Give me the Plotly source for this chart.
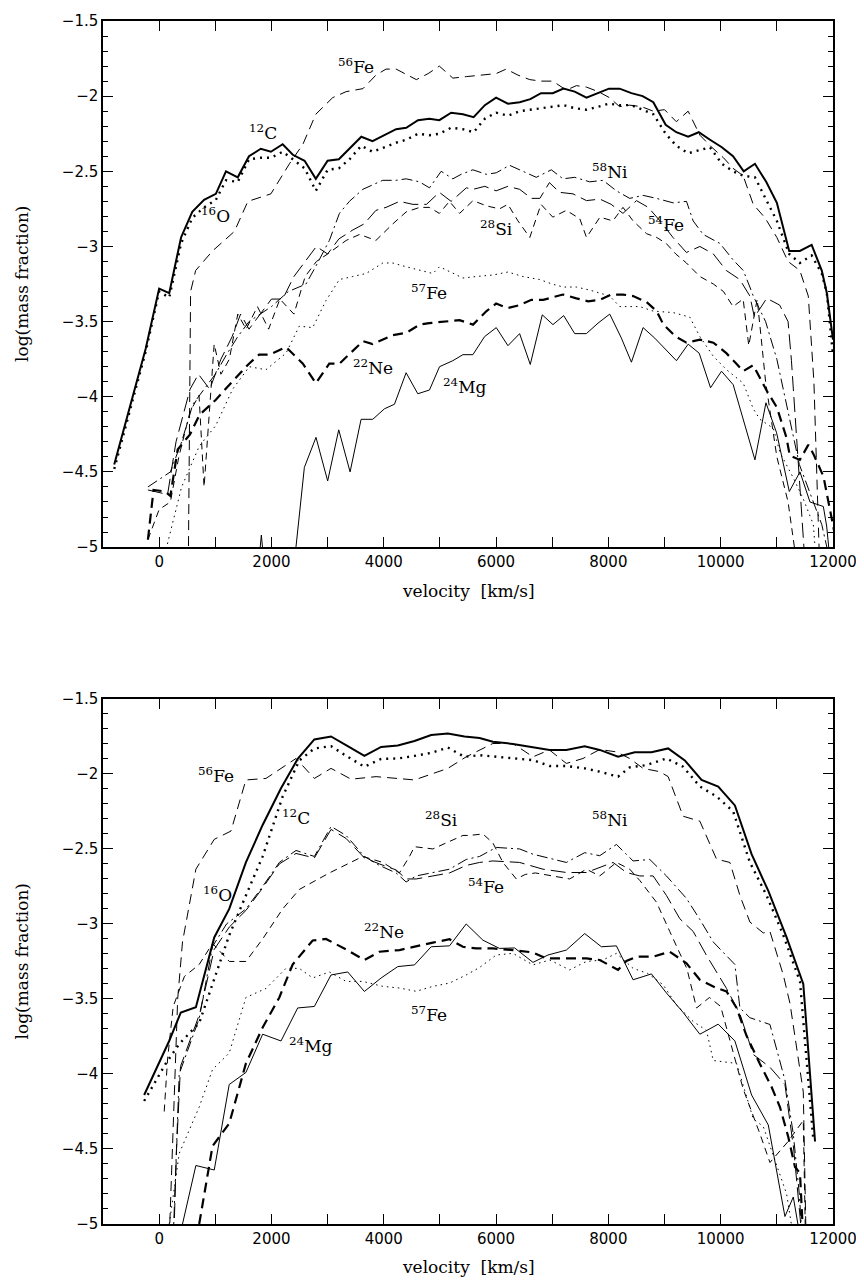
import plotly.graph_objects as go

# ---------------- TOP PANEL DATA ----------------
T_C12_X = [-800, -240, 0, 180, 390, 590, 800, 1010, 1190, 1400, 1600, 1810, 1990, 2200, 2380, 2590, 2790, 3000, 3200, 3390, 3600, 3800, 4010, 4220, 4400, 4610, 4810, 4990, 5200, 5410, 5600, 5800, 6000, 6210, 6420, 6610, 6800, 7010, 7200, 7400, 7610, 7820, 8010, 8200, 8410, 8610, 8800, 9020, 9210, 9420, 9610, 9810, 10020, 10220, 10410, 10610, 10810, 11000, 11220, 11410, 11620, 11800, 11890, 12000]
T_C12_Y = [-4.45, -3.68, -3.28, -3.31, -2.94, -2.77, -2.69, -2.65, -2.50, -2.54, -2.40, -2.35, -2.37, -2.32, -2.39, -2.43, -2.55, -2.43, -2.42, -2.35, -2.27, -2.30, -2.26, -2.22, -2.21, -2.16, -2.15, -2.16, -2.11, -2.12, -2.14, -2.06, -2.01, -2.05, -2.04, -2.02, -1.98, -1.98, -1.95, -1.97, -2.01, -1.98, -1.95, -1.95, -1.98, -2.00, -2.04, -2.19, -2.24, -2.27, -2.24, -2.29, -2.34, -2.40, -2.50, -2.45, -2.57, -2.71, -3.03, -3.03, -2.99, -3.16, -3.31, -3.62]

T_O16_X = [-800, -240, 0, 180, 390, 590, 800, 1010, 1190, 1400, 1600, 1810, 1990, 2200, 2380, 2590, 2790, 3000, 3200, 3390, 3600, 3800, 4010, 4220, 4400, 4610, 4810, 4990, 5200, 5410, 5600, 5800, 6000, 6210, 6420, 6610, 6800, 7010, 7200, 7400, 7610, 7820, 8010, 8200, 8410, 8610, 8800, 9020, 9210, 9420, 9610, 9810, 10020, 10220, 10410, 10610, 10810, 11000, 11220, 11410, 11620, 11800, 11890, 12000]
T_O16_Y = [-4.48, -3.70, -3.30, -3.34, -2.98, -2.81, -2.74, -2.69, -2.56, -2.57, -2.42, -2.41, -2.41, -2.37, -2.42, -2.48, -2.63, -2.49, -2.48, -2.42, -2.33, -2.37, -2.34, -2.31, -2.29, -2.25, -2.26, -2.25, -2.21, -2.22, -2.24, -2.15, -2.11, -2.13, -2.10, -2.09, -2.08, -2.07, -2.06, -2.08, -2.09, -2.07, -2.05, -2.06, -2.06, -2.09, -2.12, -2.25, -2.33, -2.38, -2.36, -2.34, -2.45, -2.50, -2.53, -2.54, -2.69, -2.83, -3.05, -3.11, -3.06, -3.18, -3.31, -3.72]

T_FE56_X = [520, 545, 560, 650, 950, 1340, 1580, 1990, 2320, 2560, 2790, 3090, 3330, 3630, 3860, 4040, 4220, 4580, 4790, 4990, 5230, 5470, 5710, 6000, 6180, 6390, 6600, 6800, 7010, 7250, 7430, 7610, 7820, 8020, 8200, 8380, 8590, 8800, 9000, 9210, 9420, 9630, 9840, 10050, 10220, 10400, 10580, 10790, 11000, 11200, 11410, 11560, 11660, 11760]
T_FE56_Y = [-5.1, -4.2, -3.30, -3.16, -3.03, -2.90, -2.70, -2.65, -2.45, -2.32, -2.12, -2.01, -1.97, -1.95, -1.86, -1.82, -1.82, -1.89, -1.85, -1.80, -1.88, -1.87, -1.86, -1.85, -1.82, -1.86, -1.89, -1.90, -1.90, -1.96, -1.93, -1.94, -1.97, -2.01, -2.07, -2.06, -2.07, -2.10, -2.09, -2.17, -2.10, -2.26, -2.34, -2.41, -2.48, -2.53, -2.72, -2.81, -2.94, -3.10, -3.16, -3.33, -3.9, -5.1]

T_NI58_X = [-200, 0, 200, 400, 600, 800, 1000, 1200, 1400, 1600, 1800, 2000, 2300, 2615, 2793, 3031, 3210, 3388, 3626, 3982, 4220, 4398, 4636, 4814, 5022, 5230, 5379, 5587, 5825, 6003, 6240, 6478, 6716, 6984, 7192, 7400, 7667, 7905, 8143, 8380, 8618, 8856, 9153, 9391, 9510, 9688, 9986, 10223, 10402, 10520, 10580, 10800, 11000, 11200, 11400, 11600, 11800, 11950]
T_NI58_Y = [-4.6, -4.55, -4.5, -4.3, -4.05, -3.95, -3.85, -3.72, -3.6, -3.5, -3.45, -3.4, -3.3, -3.25, -3.13, -2.96, -2.78, -2.70, -2.62, -2.56, -2.56, -2.55, -2.57, -2.61, -2.50, -2.55, -2.52, -2.49, -2.52, -2.51, -2.46, -2.50, -2.54, -2.49, -2.55, -2.54, -2.57, -2.56, -2.63, -2.68, -2.66, -2.68, -2.71, -2.70, -2.83, -2.92, -2.98, -3.09, -3.16, -3.27, -3.33, -3.5, -3.75, -4.1, -4.45, -4.65, -4.85, -5.1]

T_FE54_X = [-200, 150, 300, 550, 700, 900, 1100, 1300, 1450, 1600, 1800, 2000, 2200, 2400, 2600, 2800, 3000, 3200, 3450, 3650, 3860, 4040, 4280, 4520, 4760, 4990, 5200, 5470, 5590, 5800, 6000, 6210, 6420, 6630, 6780, 6950, 7130, 7370, 7610, 7850, 8050, 8260, 8500, 8710, 8920, 9150, 9390, 9630, 9870, 10100, 10340, 10520, 10600, 10820, 11050, 11200, 11260, 11400, 11500]
T_FE54_Y = [-4.62, -4.65, -4.3, -3.95, -3.85, -3.95, -3.75, -3.6, -3.45, -3.55, -3.45, -3.35, -3.35, -3.2, -3.1, -3.0, -3.05, -2.95, -2.89, -2.85, -2.76, -2.74, -2.70, -2.72, -2.72, -2.64, -2.70, -2.61, -2.62, -2.60, -2.63, -2.60, -2.62, -2.68, -2.68, -2.575, -2.64, -2.65, -2.695, -2.685, -2.72, -2.78, -2.695, -2.74, -2.83, -2.94, -3.04, -3.00, -3.05, -3.16, -3.22, -3.33, -3.47, -3.345, -3.39, -3.50, -3.76, -4.5, -5.1]

T_SI28_X = [-200, 0, 200, 350, 550, 710, 800, 980, 1100, 1250, 1400, 1550, 1750, 1950, 2150, 2400, 2600, 2800, 3000, 3330, 3570, 3860, 4160, 4400, 4640, 4810, 4990, 5170, 5350, 5590, 5830, 6060, 6210, 6390, 6600, 6800, 7010, 7250, 7490, 7610, 7850, 8080, 8260, 8440, 8680, 8860, 9030, 9200, 9390, 9630, 9870, 10050, 10220, 10400, 10500, 10650, 10800, 11000, 11200, 11350]
T_SI28_Y = [-4.95, -4.75, -4.7, -4.4, -4.1, -3.99, -4.6, -3.65, -3.85, -3.75, -3.45, -3.55, -3.40, -3.55, -3.35, -3.45, -3.2, -3.1, -3.05, -2.96, -2.92, -2.96, -2.85, -2.77, -2.74, -2.74, -2.78, -2.70, -2.78, -2.695, -2.73, -2.75, -2.72, -2.83, -2.94, -2.72, -2.805, -2.76, -2.815, -2.94, -2.805, -2.83, -2.74, -2.83, -2.915, -2.94, -2.98, -3.05, -3.11, -3.20, -3.25, -3.30, -3.40, -3.35, -3.66, -3.35, -3.9, -4.4, -4.7, -5.1]

T_FE57_X = [100, 400, 713, 1010, 1308, 1605, 1902, 2259, 2496, 2734, 2971, 3210, 3447, 3685, 3982, 4160, 4398, 4636, 4874, 4993, 5230, 5409, 5646, 5943, 6211, 6478, 6775, 7000, 7192, 7430, 7667, 8024, 8202, 8559, 8797, 9153, 9450, 9629, 9867, 10104, 10402, 10580, 10699, 10937, 11055, 11293, 11471, 11650, 11700]
T_FE57_Y = [-5.05, -4.6, -4.33, -4.19, -3.95, -3.80, -3.82, -3.71, -3.53, -3.54, -3.36, -3.22, -3.20, -3.18, -3.11, -3.11, -3.135, -3.16, -3.18, -3.135, -3.18, -3.21, -3.20, -3.19, -3.17, -3.20, -3.22, -3.25, -3.27, -3.27, -3.29, -3.33, -3.40, -3.40, -3.43, -3.44, -3.47, -3.60, -3.73, -3.82, -3.91, -4.08, -4.15, -4.21, -4.37, -4.54, -4.68, -4.85, -5.1]

T_NE22_X = [-200, -100, 100, 200, 330, 550, 720, 1010, 1300, 1600, 1780, 1960, 2260, 2560, 2790, 3030, 3210, 3630, 3800, 4160, 4400, 4640, 4810, 5110, 5350, 5590, 5830, 6000, 6210, 6420, 6630, 6840, 7190, 7430, 7640, 7850, 8050, 8260, 8440, 8680, 8860, 8980, 9200, 9390, 9630, 9870, 10100, 10280, 10400, 10580, 10820, 11000, 11170, 11230, 11410, 11560, 11650, 11830, 11950, 12050]
T_NE22_Y = [-4.95, -4.62, -4.63, -4.66, -4.35, -4.25, -4.12, -4.02, -3.90, -3.78, -3.72, -3.72, -3.67, -3.78, -3.91, -3.78, -3.78, -3.63, -3.65, -3.59, -3.575, -3.52, -3.51, -3.50, -3.49, -3.52, -3.43, -3.38, -3.41, -3.39, -3.355, -3.355, -3.32, -3.345, -3.365, -3.355, -3.32, -3.32, -3.33, -3.37, -3.43, -3.52, -3.60, -3.64, -3.62, -3.64, -3.71, -3.78, -3.83, -3.79, -3.96, -4.07, -4.27, -4.39, -4.42, -4.32, -4.38, -4.53, -4.77, -4.95]

T_MG24_X = [1750, 1820, 1890, None, 2380, 2586, 2793, 3001, 3198, 3400, 3596, 3804, 4012, 4190, 4398, 4606, 4814, 4993, 5230, 5409, 5587, 5795, 6003, 6211, 6419, 6609, 6823, 7013, 7204, 7400, 7608, 7816, 8024, 8232, 8410, 8618, 8826, 9034, 9212, 9421, 9617, 9819, 10015, 10223, 10402, 10610, 10806, 10996, 11222, 11412, 11590, 11828, 11887, 11950]
T_MG24_Y = [-5.2, -4.92, -5.2, None, -5.2, -4.47, -4.27, -4.56, -4.22, -4.50, -4.15, -4.15, -4.08, -4.05, -3.84, -3.98, -3.955, -3.80, -3.76, -3.72, -3.72, -3.60, -3.54, -3.66, -3.58, -3.785, -3.455, -3.52, -3.46, -3.58, -3.58, -3.51, -3.45, -3.61, -3.77, -3.54, -3.61, -3.69, -3.76, -3.65, -3.71, -3.94, -3.83, -3.92, -4.15, -4.42, -4.04, -4.24, -4.63, -4.50, -4.70, -4.73, -4.86, -5.1]

# ---------------- BOTTOM PANEL DATA ----------------
B_C12_X = [-267, 178, 386, 654, 981, 1248, 1545, 1843, 2170, 2467, 2764, 3061, 3358, 3655, 3953, 4250, 4547, 4844, 5141, 5438, 5706, 5943, 6300, 6657, 6954, 7251, 7578, 7846, 8172, 8470, 8767, 9064, 9361, 9659, 9956, 10253, 10550, 10848, 11174, 11471, 11680]
B_C12_Y = [-4.14, -3.78, -3.59, -3.555, -3.09, -2.90, -2.59, -2.34, -2.095, -1.90, -1.77, -1.75, -1.815, -1.88, -1.82, -1.81, -1.78, -1.74, -1.73, -1.75, -1.76, -1.785, -1.80, -1.82, -1.84, -1.84, -1.815, -1.84, -1.885, -1.855, -1.855, -1.83, -1.91, -2.04, -2.085, -2.21, -2.535, -2.78, -3.09, -3.40, -4.45]

B_O16_X = [-267, 119, 357, 713, 951, 1248, 1545, 1843, 2200, 2496, 2764, 3061, 3358, 3655, 3953, 4250, 4547, 4844, 5141, 5438, 5706, 6003, 6300, 6657, 6954, 7251, 7578, 7846, 8172, 8380, 8678, 9034, 9331, 9629, 9926, 10223, 10520, 10818, 11115, 11412, 11650]
B_O16_Y = [-4.18, -3.93, -3.80, -3.66, -3.40, -3.075, -2.81, -2.55, -2.15, -1.91, -1.83, -1.815, -1.886, -1.952, -1.90, -1.897, -1.88, -1.86, -1.824, -1.886, -1.875, -1.886, -1.895, -1.908, -1.947, -1.947, -1.963, -1.985, -2.018, -1.956, -1.941, -1.897, -1.952, -2.084, -2.15, -2.25, -2.59, -2.81, -3.075, -3.384, -4.44]

B_FE56_X = [180, 260, 330, 416, 654, 981, 1278, 1545, 1902, 2437, 2764, 3061, 3418, 3863, 4547, 5141, 5468, 5943, 6300, 6657, 6950, 7251, 7548, 7846, 8143, 8380, 8618, 8916, 9064, 9331, 9629, 9926, 10164, 10342, 10520, 10758, 10877, 11115, 11234, 11471, 11520]
B_FE56_Y = [-5.1, -4.3, -3.5, -3.12, -2.635, -2.436, -2.381, -2.04, -2.03, -1.897, -2.03, -1.963, -2.035, -2.018, -2.04, -1.963, -1.886, -1.797, -1.797, -1.886, -1.84, -1.93, -1.897, -1.837, -1.853, -1.897, -1.963, -1.985, -2.018, -2.282, -2.315, -2.568, -2.59, -2.81, -2.987, -3.06, -3.05, -3.34, -3.53, -4.12, -5.1]

B_NI58_X = [250, 297, 357, 713, 951, 1200, 1545, 1843, 2140, 2437, 2764, 3061, 3329, 3655, 3923, 4220, 4398, 4577, 4874, 5171, 5468, 5706, 6003, 6419, 6657, 7251, 7578, 7846, 8143, 8440, 8737, 9034, 9391, 9629, 9867, 10253, 10342, 10520, 10877, 11144, 11293, 11400, 11450]
B_NI58_Y = [-5.1, -4.6, -4.0, -3.63, -3.15, -3.0, -2.90, -2.75, -2.59, -2.51, -2.55, -2.35, -2.41, -2.55, -2.61, -2.66, -2.72, -2.68, -2.66, -2.635, -2.57, -2.55, -2.49, -2.50, -2.535, -2.59, -2.525, -2.545, -2.47, -2.58, -2.57, -2.68, -2.83, -2.97, -3.12, -3.27, -3.56, -3.625, -3.67, -4.04, -4.40, -4.8, -5.1]

B_FE54_X = [260, 310, 380, 720, 980, 1250, 1545, 1843, 2140, 2437, 2764, 3061, 3329, 3655, 3923, 4220, 4398, 4577, 4874, 5171, 5468, 5706, 5943, 6419, 6835, 7251, 7608, 8083, 8321, 8559, 8797, 9034, 9272, 9510, 9748, 10104, 10342, 10580, 10877, 11144, 11300, 11450]
B_FE54_Y = [-5.1, -4.5, -3.95, -3.60, -3.17, -3.02, -2.91, -2.76, -2.60, -2.53, -2.56, -2.37, -2.43, -2.56, -2.60, -2.64, -2.70, -2.70, -2.68, -2.66, -2.61, -2.59, -2.58, -2.59, -2.635, -2.657, -2.657, -2.59, -2.657, -2.68, -2.68, -2.81, -2.965, -3.05, -3.21, -3.43, -3.60, -3.87, -3.955, -4.07, -4.5, -5.1]

B_SI28_X = [90, 150, 250, 450, 713, 951, 1250, 1545, 1843, 2199, 2496, 3031, 3626, 3982, 4279, 4458, 4547, 4874, 5111, 5409, 5527, 5765, 5943, 6122, 6360, 6520, 6700, 7310, 7608, 7846, 8143, 8380, 8559, 8856, 9093, 9400, 9570, 9800, 10000, 10400, 10700, 10877, 11200, 11471, 11510]
B_SI28_Y = [-4.25, -3.9, -3.55, -3.35, -3.27, -3.13, -3.25, -3.25, -3.10, -2.90, -2.77, -2.66, -2.55, -2.59, -2.66, -2.55, -2.485, -2.50, -2.46, -2.41, -2.41, -2.40, -2.46, -2.59, -2.70, -2.67, -2.66, -2.70, -2.635, -2.68, -2.59, -2.635, -2.71, -2.855, -3.05, -3.30, -3.56, -3.49, -3.55, -4.1, -4.4, -4.59, -4.45, -4.31, -5.1]

B_NE22_X = [713, 951, 1248, 1545, 1843, 2140, 2377, 2734, 2971, 3329, 3655, 3923, 4279, 4636, 4874, 5171, 5409, 5646, 5943, 6300, 6657, 6894, 7251, 7608, 7846, 8172, 8321, 8500, 8797, 9093, 9391, 9629, 9926, 10104, 10283, 10461, 10699, 10907, 11055, 11204, 11323, 11412, 11470]
B_NE22_Y = [-5.0, -4.48, -4.33, -3.93, -3.69, -3.49, -3.27, -3.11, -3.10, -3.17, -3.24, -3.185, -3.174, -3.141, -3.124, -3.102, -3.152, -3.163, -3.163, -3.174, -3.19, -3.23, -3.23, -3.23, -3.24, -3.306, -3.247, -3.218, -3.218, -3.185, -3.262, -3.372, -3.427, -3.45, -3.56, -3.746, -3.933, -4.087, -4.22, -4.42, -4.62, -4.66, -5.1]

B_FE57_X = [180, 357, 713, 951, 1248, 1545, 1902, 2259, 2496, 2734, 3031, 3329, 3626, 3982, 4279, 4577, 4874, 5171, 5468, 5706, 6003, 6300, 6657, 6954, 7310, 7608, 7905, 8143, 8440, 8700, 8975, 9212, 9510, 9748, 9867, 10283, 10461, 10580, 10758, 10937, 11174, 11300]
B_FE57_Y = [-5.0, -4.53, -4.22, -3.97, -3.86, -3.49, -3.43, -3.296, -3.296, -3.36, -3.32, -3.383, -3.383, -3.416, -3.427, -3.449, -3.416, -3.394, -3.34, -3.29, -3.207, -3.196, -3.273, -3.24, -3.306, -3.25, -3.24, -3.196, -3.296, -3.33, -3.405, -3.54, -3.65, -3.71, -3.91, -3.93, -4.15, -4.30, -4.35, -4.55, -4.80, -5.1]

B_MG24_X = [416, 654, 981, 1248, 1545, 1843, 2170, 2467, 2764, 3061, 3358, 3655, 3953, 4250, 4547, 4844, 5171, 5468, 5765, 6062, 6330, 6657, 6924, 7251, 7578, 7875, 8143, 8440, 8767, 9034, 9331, 9629, 9956, 10253, 10550, 10848, 11144, 11293, 11420]
B_MG24_Y = [-5.0, -4.61, -4.64, -4.07, -3.99, -3.735, -3.78, -3.56, -3.55, -3.34, -3.32, -3.45, -3.36, -3.284, -3.273, -3.152, -3.146, -3.0, -3.108, -3.163, -3.16, -3.256, -3.207, -3.174, -3.064, -3.152, -3.146, -3.372, -3.333, -3.46, -3.59, -3.735, -3.668, -3.78, -4.14, -4.34, -4.95, -4.82, -5.1]

# ---------------- LABELS ----------------
TOP_LABELS = [("<sup>56</sup>Fe", 3507, -1.80), ("<sup>12</sup>C", 1843, -2.24), ("<sup>16</sup>O", 1010, -2.79),
              ("<sup>57</sup>Fe", 4814, -3.30), ("<sup>58</sup>Ni", 8024, -2.50), ("<sup>28</sup>Si", 6003, -2.88),
              ("<sup>54</sup>Fe", 9034, -2.85), ("<sup>22</sup>Ne", 3804, -3.80), ("<sup>24</sup>Mg", 5439, -3.93)]
BOT_LABELS = [("<sup>56</sup>Fe", 1010, -2.01), ("<sup>12</sup>C", 2437, -2.29), ("<sup>16</sup>O", 1040, -2.80),
              ("<sup>28</sup>Si", 5022, -2.30), ("<sup>58</sup>Ni", 8024, -2.30), ("<sup>54</sup>Fe", 5825, -2.745),
              ("<sup>22</sup>Ne", 4012, -3.05), ("<sup>57</sup>Fe", 4814, -3.60), ("<sup>24</sup>Mg", 2705, -3.81)]

# ---------------- STYLES ----------------
STYLE = {
    "C12": dict(width=2.0, dash="solid"),
    "O16": dict(width=2.4, dash="2px,5px"),
    "FE56": dict(width=1.0, dash="10px,6px"),
    "NI58": dict(width=1.0, dash="11px,4px,2px,4px"),
    "FE54": dict(width=1.0, dash="15px,6px"),
    "SI28": dict(width=1.0, dash="7px,5px"),
    "FE57": dict(width=1.0, dash="1.5px,4px"),
    "NE22": dict(width=2.2, dash="10px,6px"),
    "MG24": dict(width=1.0, dash="solid"),
}

top_series = [("C12", T_C12_X, T_C12_Y), ("O16", T_O16_X, T_O16_Y), ("FE56", T_FE56_X, T_FE56_Y),
              ("NI58", T_NI58_X, T_NI58_Y), ("FE54", T_FE54_X, T_FE54_Y), ("SI28", T_SI28_X, T_SI28_Y),
              ("FE57", T_FE57_X, T_FE57_Y), ("NE22", T_NE22_X, T_NE22_Y), ("MG24", T_MG24_X, T_MG24_Y)]
bot_series = [("C12", B_C12_X, B_C12_Y), ("O16", B_O16_X, B_O16_Y), ("FE56", B_FE56_X, B_FE56_Y),
              ("NI58", B_NI58_X, B_NI58_Y), ("FE54", B_FE54_X, B_FE54_Y), ("SI28", B_SI28_X, B_SI28_Y),
              ("FE57", B_FE57_X, B_FE57_Y), ("NE22", B_NE22_X, B_NE22_Y), ("MG24", B_MG24_X, B_MG24_Y)]

fig = go.Figure()
for name, xs, ys in top_series:
    fig.add_trace(go.Scatter(x=xs, y=ys, mode="lines", xaxis="x", yaxis="y",
                             line=dict(color="black", **STYLE[name]), showlegend=False, hoverinfo="skip"))
for name, xs, ys in bot_series:
    fig.add_trace(go.Scatter(x=xs, y=ys, mode="lines", xaxis="x2", yaxis="y2",
                             line=dict(color="black", **STYLE[name]), showlegend=False, hoverinfo="skip"))

TICKFONT = dict(family="DejaVu Sans", size=15, color="black")
LABFONT = dict(family="DejaVu Serif", size=17, color="black")

def xax(anchor):
    return dict(range=[-1000, 12000], anchor=anchor, tick0=0, dtick=2000, tickformat="d",
                ticks="inside", ticklen=10,
                tickwidth=1, tickcolor="black", mirror="allticks", showline=True, linecolor="black",
                linewidth=1.5, showgrid=False, zeroline=False, tickfont=TICKFONT,
                minor=dict(ticks="inside", dtick=1000, tick0=0, ticklen=10, tickcolor="black", showgrid=False))

def yax(anchor, domain):
    return dict(range=[-5, -1.5], anchor=anchor, domain=domain, tick0=-5, dtick=0.5, ticks="inside", ticklen=10,
                tickwidth=1, tickcolor="black", mirror="allticks", showline=True, linecolor="black",
                linewidth=1.5, showgrid=False, zeroline=False, tickfont=TICKFONT,
                minor=dict(ticks="inside", dtick=0.1, tick0=-5, ticklen=5, tickcolor="black", showgrid=False))

annotations = []
for txt, x, y in TOP_LABELS:
    annotations.append(dict(text=txt, x=x, y=y, xref="x", yref="y", showarrow=False, font=LABFONT))
for txt, x, y in BOT_LABELS:
    annotations.append(dict(text=txt, x=x, y=y, xref="x2", yref="y2", showarrow=False, font=LABFONT))

# axis titles
for yy in (0.5258, -0.036):
    annotations.append(dict(text="velocity  [km/s]", x=0.5, y=yy, xref="paper", yref="paper",
                            showarrow=False, font=LABFONT, xanchor="center", yanchor="middle"))
for yy in (0.7814, 0.2182):
    annotations.append(dict(text="log(mass fraction)", x=-0.111, y=yy, xref="paper", yref="paper",
                            showarrow=False, font=LABFONT, textangle=-90, xanchor="center", yanchor="middle"))

# page body has an 8px default margin: size and margins compensate so the plot areas
# land at the same window positions as in the reference
fig.update_layout(
    width=856, height=1278,
    margin=dict(l=95, r=31, t=4, b=62),
    paper_bgcolor="white", plot_bgcolor="white",
    xaxis=xax("y"), yaxis=yax("x", [0.5627, 1.0]),
    xaxis2=xax("y2"), yaxis2=yax("x2", [0.0, 0.43647]),
    annotations=annotations,
)

fig.write_html("out.html")
